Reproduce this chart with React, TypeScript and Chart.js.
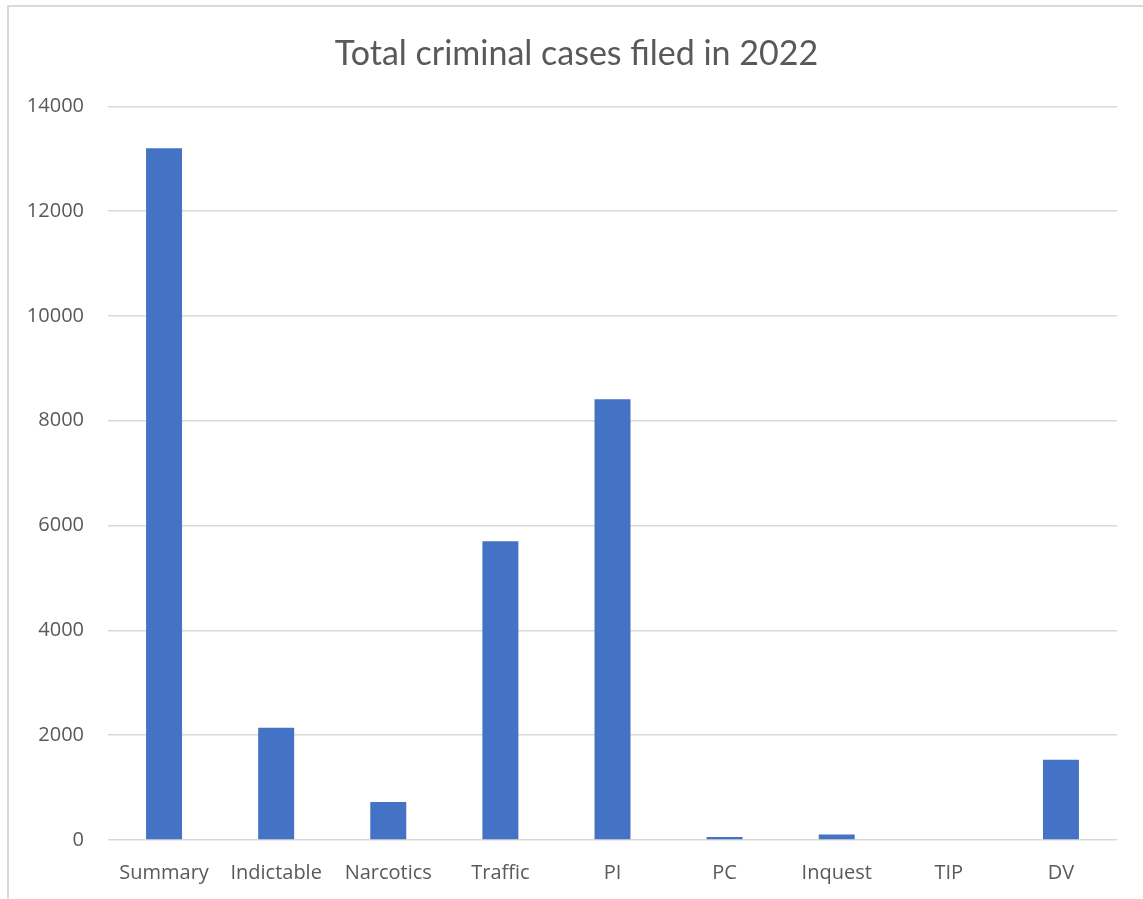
import React, { useEffect, useRef } from "react";
import { Chart, registerables } from "chart.js";

Chart.register(...registerables);

const categories = ["Summary", "Indictable", "Narcotics", "Traffic", "PI", "PC", "Inquest", "TIP", "DV"];
const casesFiled = [13200, 2140, 725, 5700, 8410, 55, 105, 0, 1530];
const yTicks = [0, 2000, 4000, 6000, 8000, 10000, 12000, 14000];
const chartTitle = "Total criminal cases filed in 2022";

export default function App() {
  const canvasRef = useRef<HTMLCanvasElement | null>(null);

  useEffect(() => {
    if (!canvasRef.current) return;
    const chart = new Chart(canvasRef.current, {
      type: "bar",
      data: {
        labels: categories,
        datasets: [
          {
            data: casesFiled,
            backgroundColor: "#4472c4",
            borderWidth: 0,
            barPercentage: 0.321,
            categoryPercentage: 1,
          },
        ],
      },
      options: {
        animation: false,
        responsive: true,
        maintainAspectRatio: false,
        layout: { padding: { left: 10, right: 0, top: 0, bottom: 0 } },
        plugins: {
          legend: { display: false },
          tooltip: { enabled: false },
          title: {
            display: true,
            text: chartTitle,
            color: "#595959",
            font: { family: "Lato", size: 34, weight: "normal", lineHeight: 1.2 },
            padding: { top: 34, bottom: 31.5 },
          },
        },
        scales: {
          x: {
            grid: { display: false, drawTicks: false },
            border: { display: false },
            ticks: {
              color: "#595959",
              font: { family: "Open Sans", size: 20 },
              padding: 21,
              maxRotation: 0,
              autoSkip: false,
            },
            afterFit: (scale: any) => {
              scale.height = 59;
            },
          },
          y: {
            min: 0,
            max: 14000,
            afterBuildTicks: (scale: any) => {
              scale.ticks = yTicks.map((v) => ({ value: v }));
            },
            grid: { color: "#d9d9d9", lineWidth: 1.5, drawTicks: false },
            border: { display: false },
            ticks: {
              color: "#595959",
              font: { family: "Open Sans", size: 20 },
              padding: 24,
              callback: (value: any) => String(value),
            },
            afterFit: (scale: any) => {
              scale.width = 98;
            },
          },
          yRight: {
            position: "right",
            min: 0,
            max: 14000,
            grid: { display: false, drawTicks: false },
            border: { display: false },
            ticks: { display: false },
            afterFit: (scale: any) => {
              scale.width = 26;
            },
          },
        },
      },
    });
    return () => chart.destroy();
  }, []);

  return (
    <div style={{ position: "fixed", left: 0, top: 0, width: 1143, height: 899, background: "#fff" }}>
      <div
        style={{
          position: "absolute",
          left: 7,
          top: 5,
          right: 0,
          bottom: 0,
          borderLeft: "2px solid #d9d9d9",
          borderTop: "2px solid #d9d9d9",
        }}
      />
      <div style={{ position: "absolute", left: 0, top: 0, width: 1143, height: 899 }}>
        <canvas ref={canvasRef} />
      </div>
    </div>
  );
}
